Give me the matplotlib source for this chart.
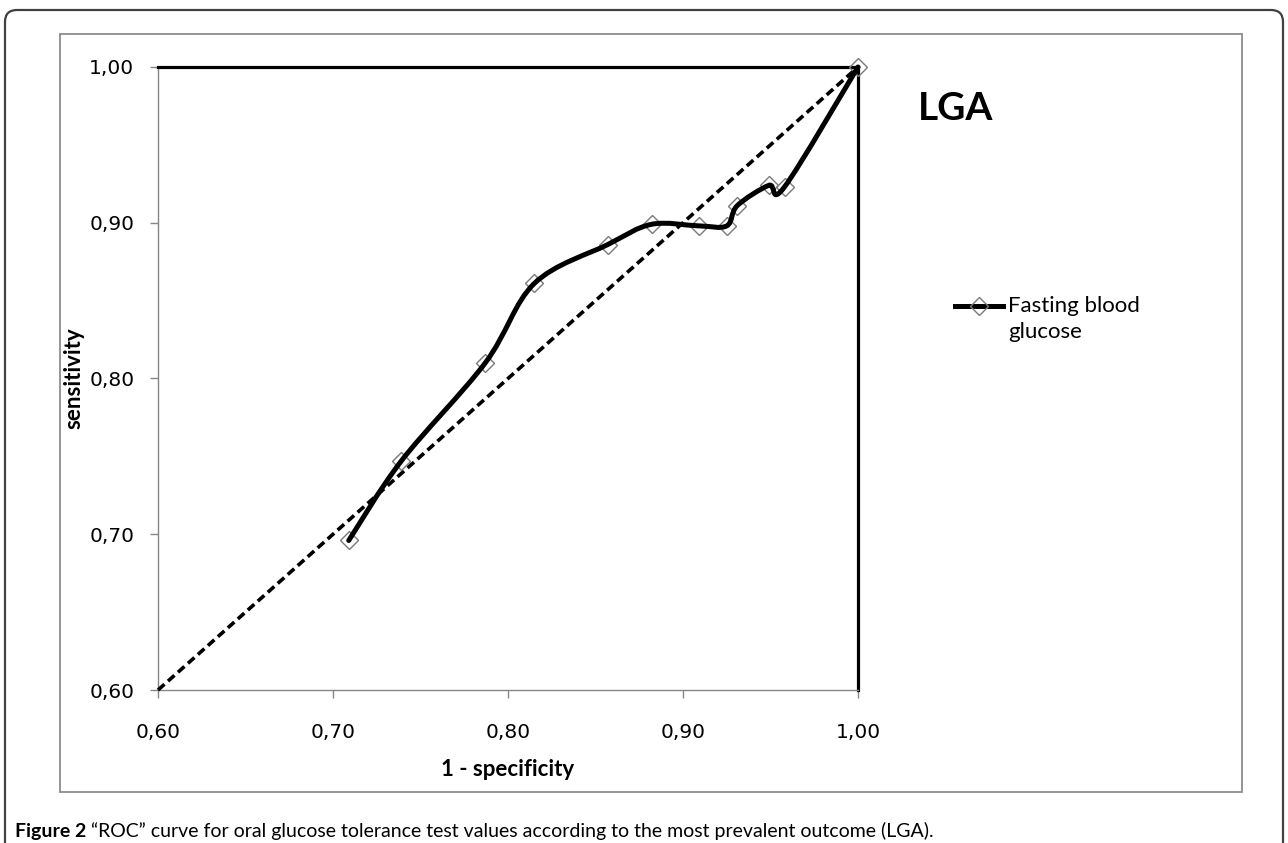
import matplotlib.pyplot as plt
from matplotlib.path import Path
from matplotlib.patches import PathPatch, Rectangle, FancyBboxPatch
from matplotlib.lines import Line2D

# ROC points (fasting blood glucose, LGA)
fpr = [0.709, 0.739, 0.787, 0.815, 0.857, 0.882, 0.909, 0.925, 0.931, 0.949, 0.958, 1.000]
sens = [0.696, 0.747, 0.810, 0.861, 0.886, 0.899, 0.898, 0.898, 0.911, 0.924, 0.923, 1.000]

# chance line
diag_x = [0.60, 1.00]
diag_y = [0.60, 1.00]

tick_values = [0.60, 0.70, 0.80, 0.90, 1.00]
tick_labels = ["0,60", "0,70", "0,80", "0,90", "1,00"]

series_name = ["Fasting blood", "glucose"]
panel_title = "LGA"

W, H = 1288, 843
fig = plt.figure(figsize=(W / 100, H / 100), dpi=100)

# outer rounded border and the chart area frame (pixel units -> inches)
px = fig.dpi_scale_trans
fig.add_artist(FancyBboxPatch((5 / 100, -30 / 100), 1278 / 100, (H - 10 + 30) / 100,
                              boxstyle="round,pad=0,rounding_size=0.12",
                              transform=px, fill=False, ec="#404040", lw=1.6))
fig.add_artist(Rectangle((60 / 100, (H - 792) / 100), (1242 - 60) / 100, (792 - 34) / 100,
                         transform=px, fill=False, ec="#8c8c8c", lw=1.3))

ax = fig.add_axes([158 / W, (H - 690) / H, 700 / W, 623 / H])
ax.set_xlim(0.6, 1.0)
ax.set_ylim(0.6, 1.0)

ax.plot(diag_x, diag_y, color="black", lw=2.6, dashes=(2.4, 1.3), zorder=3,
        solid_capstyle="butt", clip_on=False)


def smooth_path(xs, ys):
    # Excel style smoothed line: cubic bezier through every point
    pts = list(zip(xs, ys))
    n = len(pts)
    verts = [pts[0]]
    codes = [Path.MOVETO]
    for i in range(n - 1):
        p0 = pts[i - 1] if i > 0 else pts[i]
        p1 = pts[i]
        p2 = pts[i + 1]
        p3 = pts[i + 2] if i + 2 < n else pts[i + 1]
        c1 = (p1[0] + (p2[0] - p0[0]) / 6, p1[1] + (p2[1] - p0[1]) / 6)
        c2 = (p2[0] - (p3[0] - p1[0]) / 6, p2[1] - (p3[1] - p1[1]) / 6)
        verts += [c1, c2, p2]
        codes += [Path.CURVE4] * 3
    return Path(verts, codes)


ax.plot(fpr, sens, linestyle="none", marker="D", markersize=9, mfc="none",
        mec="#7a7a7a", mew=1.0, zorder=4, clip_on=False)
ax.add_patch(PathPatch(smooth_path(fpr, sens), fill=False, ec="black", lw=3.6,
                       capstyle="round", joinstyle="round", zorder=5, clip_on=False))

ax.set_xticks(tick_values, tick_labels)
ax.set_yticks(tick_values, tick_labels)
ax.tick_params(direction="out", length=6, width=1, color="#868686",
               labelsize=14.5, labelcolor="black")
ax.tick_params(axis="x", pad=18)
ax.tick_params(axis="y", pad=11)

for s in ["left", "bottom"]:
    ax.spines[s].set_color("#868686")
    ax.spines[s].set_linewidth(1.0)
for s in ["top", "right"]:
    ax.spines[s].set_color("black")
    ax.spines[s].set_linewidth(2.3)

ax.set_xlabel("1 - specificity", fontsize=16, fontweight="bold", family="Lato")
ax.xaxis.set_label_coords(0.5, (690 - 770) / 623)
ax.xaxis.label.set_va("center")
ax.set_ylabel("sensitivity", fontsize=16, fontweight="bold", family="Lato")
ax.yaxis.set_label_coords((84 - 158) / 700, 0.5)

fig.text(918 / W, 1 - 120 / H, panel_title, fontsize=28, fontweight="bold",
         family="Lato", va="baseline", ha="left")

# legend drawn by hand: line sample next to the first text row
ly = 1 - 306 / H
fig.add_artist(Line2D([955 / W, 1003 / W], [ly, ly], color="black", lw=3.6,
                      transform=fig.transFigure))
fig.add_artist(Line2D([979 / W], [ly], marker="D", markersize=9, mfc="none",
                      mec="#7a7a7a", mew=1.0, transform=fig.transFigure))
fig.text(1008 / W, ly, series_name[0], fontsize=16, family="Lato", va="center")
fig.text(1008 / W, ly - 26 / H, series_name[1], fontsize=16, family="Lato", va="center")

cap1 = fig.text(15 / W, 1 - 831 / H, "Figure 2", fontsize=14, fontweight="bold",
                family="Lato", va="center", ha="left")
ax.annotate(" \u201cROC\u201d curve for oral glucose tolerance test values according to "
            "the most prevalent outcome (LGA).",
            xy=(1, 0), xycoords=cap1, va="bottom", ha="left", fontsize=14,
            family="Lato", annotation_clip=False)

fig.savefig("out.png", dpi=100)
